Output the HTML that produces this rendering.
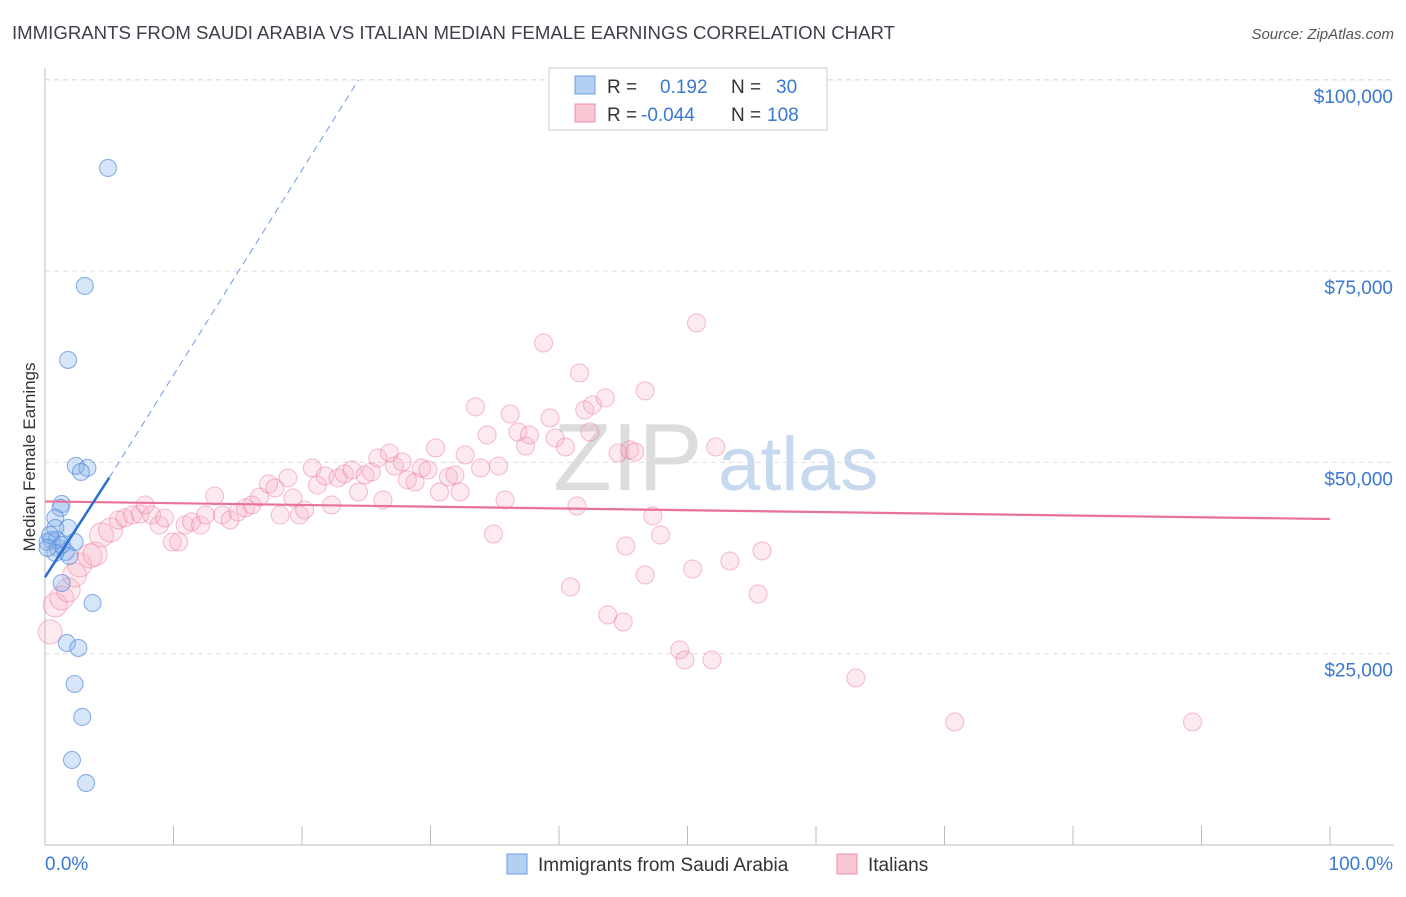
<!DOCTYPE html>
<html><head><meta charset="utf-8"><style>
body{margin:0;background:#fff;font-family:"Liberation Sans",sans-serif;}
svg text{font-family:"Liberation Sans",sans-serif;}
</style></head><body>
<svg id="chart" width="1406" height="892" xmlns="http://www.w3.org/2000/svg">
<text x="12" y="39" font-size="18" fill="#3c4048" textLength="883" lengthAdjust="spacingAndGlyphs">IMMIGRANTS FROM SAUDI ARABIA VS ITALIAN MEDIAN FEMALE EARNINGS CORRELATION CHART</text>
<text x="1394" y="39" font-size="15" fill="#555" font-style="italic" text-anchor="end">Source: ZipAtlas.com</text>
<g id="grid"></g>
<g>
<text x="553" y="490" font-size="96" fill="#dcdcdc" font-family="Liberation Serif,serif">ZIP</text>
<text x="718" y="490" font-size="76" fill="#c7d9ee">atlas</text>
</g>
<text transform="translate(35,457) rotate(-90)" font-size="17" fill="#333" text-anchor="middle">Median Female Earnings</text>
<g id="marks"></g>
<g>
<rect x="549" y="68" width="278" height="62" fill="#fff" stroke="#ccc"/>
<rect x="575" y="76" width="20" height="18" fill="#b3cff2" stroke="#6a9de0"/>
<rect x="575" y="104" width="20" height="18" fill="#f9c6d4" stroke="#ec8dab"/>
<text x="607" y="93" font-size="19" fill="#333">R =</text><text x="660" y="93" font-size="19" fill="#3a78d4">0.192</text>
<text x="731" y="93" font-size="19" fill="#333">N =</text><text x="776" y="93" font-size="19" fill="#3a78d4">30</text>
<text x="607" y="121" font-size="19" fill="#333">R =</text><text x="641" y="121" font-size="19" fill="#3a78d4">-0.044</text>
<text x="731" y="121" font-size="19" fill="#333">N =</text><text x="767" y="121" font-size="19" fill="#3a78d4">108</text>
</g>
<g>
<rect x="507" y="854" width="20" height="20" fill="#b3cff2" stroke="#6a9de0"/>
<text x="538" y="871" font-size="19" fill="#333">Immigrants from Saudi Arabia</text>
<rect x="837" y="854" width="20" height="20" fill="#f9c6d4" stroke="#ec8dab"/>
<text x="868" y="871" font-size="19" fill="#333">Italians</text>
</g>
</svg>
<script>
const yTicks=[25000,50000,75000,100000];
const yTickLabels=["$25,000","$50,000","$75,000","$100,000"];
const xLabels=["0.0%","100.0%"];
const blueX=[4.9,3.1,1.8,2.4,3.3,2.8,1.3,1.2,0.8,1.8,0.8,0.5,0.2,1.0,1.6,2.3,1.9,1.3,3.7,1.7,2.6,2.3,2.9,2.1,3.2,0.9,0.4,1.3,0.8,0.2];
const blueY=[88480,73060,63390,49540,49270,48750,44570,44050,42740,41430,41430,39860,39600,38820,38300,39600,37770,34240,31630,26400,25750,21040,16730,11110,8100,39860,40520,39210,38170,38820];
const pinkX=[0.4,0.8,1.3,1.8,2.3,2.7,3.5,3.9,4.4,5.1,5.7,6.2,6.8,7.4,7.8,8.3,8.9,9.3,9.9,10.4,10.9,11.4,12.1,12.5,13.2,13.8,14.4,15.0,15.6,16.1,16.7,17.4,17.9,18.3,18.9,19.3,19.8,20.2,20.8,21.2,21.8,22.3,22.8,23.3,23.9,24.4,24.9,25.4,25.9,26.3,26.8,27.2,27.8,28.2,28.8,29.3,29.8,30.4,30.7,31.4,31.9,32.3,32.7,33.5,33.9,34.4,34.9,35.3,35.8,36.2,36.8,37.4,37.7,38.8,39.3,39.7,40.5,40.9,41.6,42.0,42.4,42.6,43.6,43.8,44.6,45.0,45.2,45.5,45.9,46.7,46.7,47.3,47.9,49.4,49.8,50.4,50.7,51.9,52.2,53.3,55.5,55.8,63.1,70.8,89.3,41.4];
const pinkY=[27840,31370,32280,33330,35290,36600,37770,38030,40520,41170,42480,42740,43130,43260,44440,43130,41820,42740,39600,39600,41820,42220,41820,43130,45610,43130,42480,43520,44050,44440,45480,47180,46660,43130,47970,45350,43130,43780,49270,47050,48230,44440,47970,48490,49010,46140,48360,48750,50580,45090,51230,49530,50060,47710,47440,49270,49010,51890,46140,48100,48360,46140,50970,57250,49270,53590,40650,49530,45090,56330,53980,52150,53590,65610,55810,53190,52020,33720,61690,56850,53980,57510,58420,30060,51230,29150,39080,51630,51370,35290,59340,43000,40520,25490,24180,36070,68230,24180,52020,37120,32810,38430,21830,16080,16080,44310];
const blueTrend=[[0,35000],[5,48000]];
const blueDash=[[5,48000],[24.4,100000]];
const pinkTrend=[[0,44900],[100,42600]];
const X=v=>45+v*12.85, Y=v=>845-v/25000*191.3;
const NS="http://www.w3.org/2000/svg";
function mk(t,a,p){const e=document.createElementNS(NS,t);for(const k in a)e.setAttribute(k,a[k]);p.appendChild(e);return e;}
const g=document.getElementById('grid'), m=document.getElementById('marks');
mk('line',{x1:45,y1:68,x2:45,y2:845,stroke:'#bbb'},g);
mk('line',{x1:45,y1:845,x2:1394,y2:845,stroke:'#bbb'},g);
mk('line',{x1:45,y1:Y(100000),x2:1394,y2:Y(100000),stroke:'#ddd','stroke-dasharray':'5,4'},g);
for(let i=0;i<yTicks.length;i++){
 const l=mk('line',{x1:45,y1:Y(yTicks[i]),x2:1394,y2:Y(yTicks[i]),stroke:'#ddd','stroke-dasharray':'5,4'},g);
 
 
 const t=mk('text',{x:1393,y:Y(yTicks[i])+23,'font-size':19,fill:'#3a78d4','text-anchor':'end'},g);t.textContent=yTickLabels[i];
 
 
}
for(let i=0;i<=10;i++){const x=X(i*10);const l=mk('line',{x1:x,y1:826,x2:x,y2:845,stroke:'#bbb'},g);
 
 }
const t0=mk('text',{x:45,y:870,'font-size':19,fill:'#3a78d4'},g);t0.textContent=xLabels[0];


const t1=mk('text',{x:1393,y:870,'font-size':19,fill:'#3a78d4','text-anchor':'end'},g);t1.textContent=xLabels[1];


for(let i=0;i<pinkX.length;i++){const c=mk('circle',{cx:X(pinkX[i]),cy:Y(pinkY[i]),r:i<10?12:9,fill:'rgba(246,170,192,0.25)',stroke:'rgba(234,120,155,0.45)','stroke-width':1.1},m);
 
 }
for(let i=0;i<blueX.length;i++){const c=mk('circle',{cx:X(blueX[i]),cy:Y(blueY[i]),r:8.5,fill:'rgba(140,180,235,0.35)',stroke:'rgba(70,130,215,0.6)','stroke-width':1.1},m);
 
 }
const pl=mk('line',{x1:X(pinkTrend[0][0]),y1:Y(pinkTrend[0][1]),x2:X(pinkTrend[1][0]),y2:Y(pinkTrend[1][1]),stroke:'#e8729a','stroke-width':2.2},m);


const bl=mk('line',{x1:X(blueTrend[0][0]),y1:Y(blueTrend[0][1]),x2:X(blueTrend[1][0]),y2:Y(blueTrend[1][1]),stroke:'#2a6fd0','stroke-width':2.5},m);


const bd=mk('line',{x1:X(blueDash[0][0]),y1:Y(blueDash[0][1]),x2:X(blueDash[1][0]),y2:Y(blueDash[1][1]),stroke:'#6a9de0','stroke-width':1,'stroke-dasharray':'7,5'},m);


</script>
</body></html>
